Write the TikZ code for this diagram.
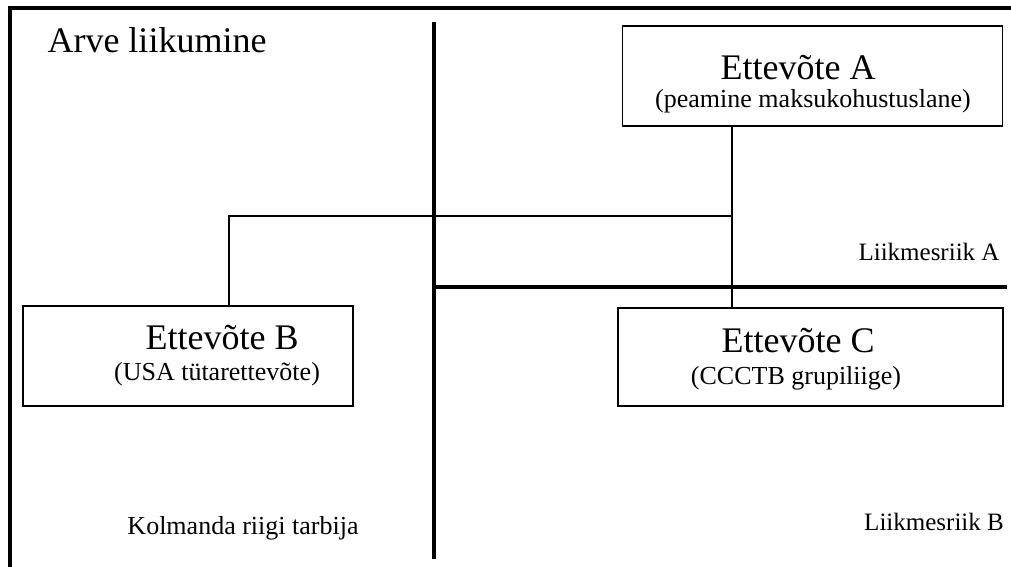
\documentclass[tikz,border=0pt]{standalone}
\usepackage{fontspec}
\setmainfont{Liberation Serif}
\usepackage{tikz}
\usetikzlibrary{positioning, calc}

\begin{document}
\begin{tikzpicture}[
    x=0.5pt, y=-0.5pt,
    border/.style={draw, line width=1.9pt},
    link/.style={draw, line width=0.6pt},
    firm/.style={draw, line width=0.6pt, minimum width=#1, minimum height=50pt, inner sep=0pt},
    bigtext/.style={font=\fontsize{18}{20}\selectfont, inner sep=0pt},
    subtext/.style={font=\fontsize{13}{15}\selectfont, inner sep=0pt},
    zonetext/.style={font=\fontsize{12.5}{14}\selectfont, inner sep=0pt},
]
    \useasboundingbox (0,0) rectangle (1011,567);

    % Frame and borders
    \draw[border] (10,567) -- (10,8) -- (1011,8);
    \draw[border] (434,22) -- (434,559);
    \draw[border] (434,287) -- (1007,287);

    % Title
    \node[bigtext] (title) at (157,40) {Arve liikumine};

    % Companies
    \node[firm=190pt] (firmA) at (812.5,76) {};
    \node[bigtext] (firmAname) at (798,68) {Ettevõte A};
    \node[subtext] (firmAnote) at (813,101) {(peamine maksukohustuslane)};

    \node[firm=165pt] (firmB) at (188,356) {};
    \node[bigtext] (firmBname) at (222,338) {Ettevõte B};
    \node[subtext] (firmBnote) at (217,374) {(USA tütarettevõte)};

    \node[firm=192.5pt, minimum height=49pt] (firmC) at (810.5,357) {};
    \node[bigtext] (firmCname) at (798,341) {Ettevõte C};
    \node[subtext] (firmCnote) at (796,378) {(CCCTB grupiliige)};

    % Connectors
    \coordinate (split) at (732,216);
    \coordinate (bend) at (229,216);
    \draw[link] (split |- firmA.south) -- (split |- firmC.north);
    \draw[link] (split) -- (bend) -- (bend |- firmB.north);

    % Zones
    \node[zonetext] (zoneA) at (929,252) {Liikmesriik A};
    \node[zonetext] (zoneB) at (934,522) {Liikmesriik B};
    \node[subtext] (zoneThird) at (243,528) {Kolmanda riigi tarbija};

\end{tikzpicture}
\end{document}
